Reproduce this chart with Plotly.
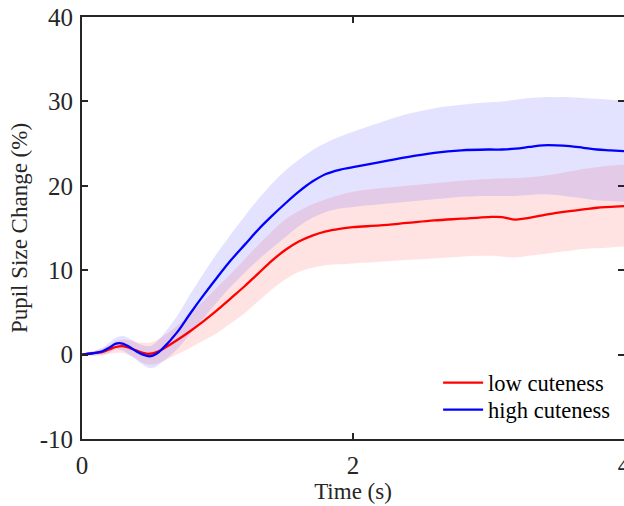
import plotly.graph_objects as go

times = [0, 0.05, 0.1, 0.15, 0.2, 0.25, 0.3, 0.35, 0.4, 0.45, 0.5, 0.55, 0.6, 0.7, 0.8, 0.9,
         1.0, 1.1, 1.2, 1.3, 1.4, 1.5, 1.6, 1.7, 1.8, 1.9, 2.0, 2.2, 2.4, 2.6, 2.8, 3.0,
         3.1, 3.2, 3.3, 3.4, 3.5, 3.6, 3.7, 3.8, 3.9, 4.0]

high_mean = [0, 0.1, 0.2, 0.4, 0.8, 1.3, 1.3, 0.9, 0.4, 0.0, -0.2, 0.1, 0.8, 2.6, 4.9, 7.1,
             9.2, 11.2, 13.0, 14.8, 16.4, 17.9, 19.3, 20.5, 21.4, 21.9, 22.2, 22.8, 23.4, 23.9, 24.2, 24.3,
             24.3, 24.4, 24.6, 24.8, 24.8, 24.7, 24.5, 24.3, 24.2, 24.1]
high_upper = [0.1, 0.3, 0.5, 0.8, 1.4, 2.0, 2.2, 1.9, 1.4, 1.1, 1.0, 1.5, 2.4, 4.5, 7.2, 9.7,
              12.1, 14.3, 16.4, 18.4, 20.2, 21.8, 23.1, 24.2, 25.1, 25.8, 26.4, 27.5, 28.5, 29.2, 29.6, 29.9,
              30.0, 30.2, 30.4, 30.5, 30.5, 30.5, 30.4, 30.3, 30.2, 30.1]
high_lower = [-0.1, -0.1, -0.1, 0.0, 0.2, 0.6, 0.5, 0.0, -0.6, -1.2, -1.6, -1.4, -0.8, 0.6, 2.5, 4.4,
              6.3, 8.1, 9.7, 11.2, 12.6, 13.9, 15.2, 16.2, 16.9, 17.3, 17.5, 17.8, 18.1, 18.4, 18.7, 18.8,
              18.8, 18.8, 18.9, 19.0, 18.9, 18.7, 18.5, 18.3, 18.2, 18.1]

low_mean = [0, 0.1, 0.2, 0.3, 0.6, 0.9, 1.0, 0.8, 0.5, 0.2, 0.1, 0.3, 0.7, 1.7, 2.8, 4.0,
            5.3, 6.7, 8.1, 9.6, 11.1, 12.4, 13.4, 14.1, 14.6, 14.9, 15.1, 15.3, 15.6, 15.9, 16.1, 16.3,
            16.3, 16.0, 16.2, 16.5, 16.8, 17.0, 17.2, 17.4, 17.5, 17.6]
low_upper = [0.1, 0.3, 0.5, 0.7, 1.1, 1.6, 1.8, 1.7, 1.5, 1.4, 1.4, 1.7, 2.2, 3.4, 4.9, 6.4,
             8.0, 9.6, 11.3, 13.0, 14.6, 16.0, 17.0, 17.8, 18.4, 18.9, 19.3, 19.7, 20.0, 20.3, 20.6, 20.8,
             20.9, 20.9, 21.0, 21.2, 21.4, 21.7, 22.0, 22.2, 22.4, 22.5]
low_lower = [-0.1, -0.1, -0.1, -0.1, 0.1, 0.2, 0.2, -0.1, -0.5, -1.0, -1.2, -1.1, -0.8, 0.0, 0.8, 1.7,
             2.6, 3.7, 4.9, 6.3, 7.7, 8.9, 9.8, 10.3, 10.6, 10.7, 10.8, 11.0, 11.2, 11.4, 11.6, 11.7,
             11.6, 11.5, 11.7, 11.9, 12.1, 12.3, 12.5, 12.6, 12.7, 12.8]

x_ticks = [0, 2, 4]
y_ticks = [-10, 0, 10, 20, 30, 40]

FONT = "Liberation Serif"
AX = "#262626"

fig = go.Figure()


def band(upper, lower, fill):
    fig.add_trace(go.Scatter(x=times, y=upper, mode="lines", line=dict(width=0, shape="spline"),
                             showlegend=False, hoverinfo="skip"))
    fig.add_trace(go.Scatter(x=times, y=lower, mode="lines", line=dict(width=0, shape="spline"),
                             fill="tonexty", fillcolor=fill, showlegend=False, hoverinfo="skip"))


band(low_upper, low_lower, "rgba(255,0,0,0.11)")
band(high_upper, high_lower, "rgba(0,0,255,0.11)")

fig.add_trace(go.Scatter(x=times, y=low_mean, mode="lines", name="low cuteness", legend="legend",
                         line=dict(color="#ff0000", width=2.3, shape="spline")))
fig.add_trace(go.Scatter(x=times, y=high_mean, mode="lines", name="high cuteness", legend="legend2",
                         line=dict(color="#0000ff", width=2.3, shape="spline")))

leg_common = dict(xanchor="left", yanchor="middle", bgcolor="rgba(0,0,0,0)", borderwidth=0,
                  font=dict(family=FONT, size=22.5, color="#000000"), itemwidth=40)

fig.update_layout(
    width=624, height=506,
    margin=dict(l=82, r=0, t=17, b=67, autoexpand=False),
    paper_bgcolor="white", plot_bgcolor="white",
    font=dict(family=FONT, size=23, color="#262626"),
    legend=dict(x=0.657, y=0.1327, **leg_common),
    legend2=dict(x=0.657, y=0.0687, **leg_common),
    showlegend=True,
)

fig.update_xaxes(range=[0, 4], tickvals=x_ticks, ticktext=[str(v) for v in x_ticks],
                 ticks="inside", ticklen=6, tickwidth=2, tickcolor=AX,
                 showline=True, linewidth=2, linecolor=AX, mirror="ticks",
                 showgrid=False, zeroline=False, automargin=False,
                 ticklabeloverflow="allow",
                 tickfont=dict(family=FONT, size=25, color="#262626"),
                 ticklabelstandoff=3,
                 title=dict(text="Time (s)", font=dict(family=FONT, size=23, color="#262626"),
                            standoff=2))
fig.update_yaxes(range=[-10, 40], tickvals=y_ticks, ticktext=[str(v) for v in y_ticks],
                 ticks="inside", ticklen=6, tickwidth=2, tickcolor=AX,
                 showline=True, linewidth=2, linecolor=AX, mirror="ticks",
                 showgrid=False, zeroline=False, automargin=False,
                 ticklabeloverflow="allow",
                 tickfont=dict(family=FONT, size=25, color="#262626"),
                 ticklabelstandoff=2,
                 title=dict(text="Pupil Size Change (%)",
                            font=dict(family=FONT, size=23, color="#262626"),
                            standoff=6))

fig.write_html("out.html", config={"displayModeBar": False},
               post_script="document.body.style.margin='0';document.body.style.overflow='hidden';")
